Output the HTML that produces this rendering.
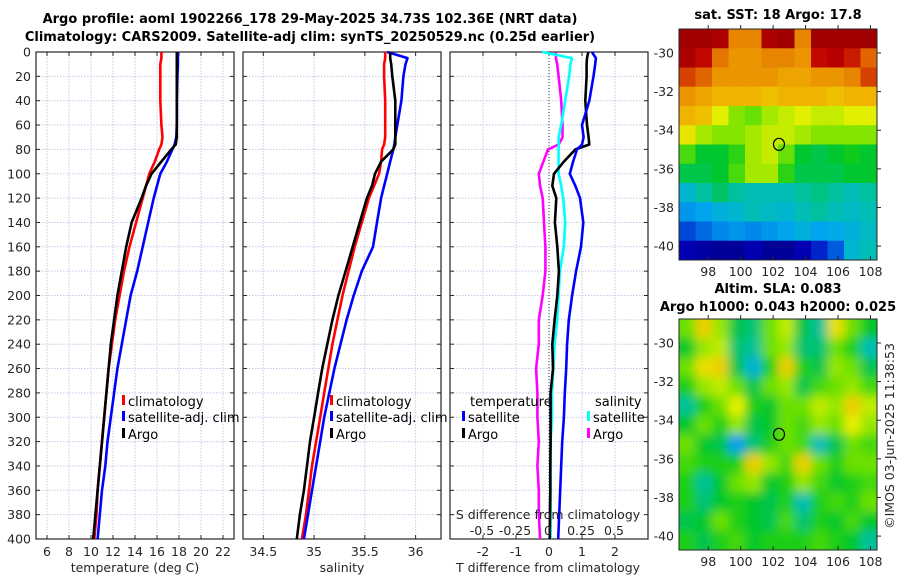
<!DOCTYPE html>
<html><head><meta charset="utf-8"><style>
html,body{margin:0;padding:0;background:#fff;}
svg{display:block;font-family:"DejaVu Sans","Liberation Sans",sans-serif;}
.t{font-size:12.5px;fill:#262626;}
.b{font-size:13px;font-weight:bold;fill:#000;}
.lg{font-size:13px;fill:#000;}
</style></head><body>
<svg id="s" width="900" height="580" viewBox="0 0 900 580">
<defs>
<clipPath id="c1"><rect x="679" y="29" width="198" height="231"/></clipPath>
<clipPath id="c2"><rect x="679" y="319" width="198" height="231"/></clipPath>
<filter id="bl" x="-10%" y="-10%" width="120%" height="120%"><feGaussianBlur stdDeviation="5"/></filter>
</defs>
<text class="b" x="310" y="23" text-anchor="middle">Argo profile: aoml 1902266_178 29-May-2025 34.73S 102.36E (NRT data)</text>
<text class="b" x="310" y="41" text-anchor="middle">Climatology: CARS2009. Satellite-adj clim: synTS_20250529.nc (0.25d earlier)</text>
<g id="g"></g>
</svg>
<script>
const depths=[0,5,10,20,40,60,70,76,80,90,100,110,120,140,160,180,200,220,240,260,280,300,320,340,360,380,400];
const tClim=[16.4,16.4,16.3,16.3,16.3,16.4,16.5,16.4,16.2,15.8,15.3,15.0,14.7,14.1,13.5,13.0,12.6,12.2,11.9,11.6,11.4,11.2,11.0,10.8,10.6,10.5,10.3];
const tSat=[17.9,17.9,17.9,17.85,17.8,17.8,17.75,17.6,17.4,16.9,16.3,16.0,15.7,15.2,14.7,14.2,13.6,13.2,12.8,12.4,12.1,11.8,11.5,11.3,11.0,10.8,10.6];
const tArgo=[17.8,17.8,17.8,17.8,17.8,17.8,17.8,17.7,17.3,16.4,15.5,15.0,14.6,13.7,13.2,12.8,12.4,12.1,11.8,11.6,11.4,11.2,11.0,10.8,10.6,10.4,10.2];
const sClim=[35.70,35.70,35.69,35.69,35.70,35.70,35.70,35.69,35.67,35.66,35.64,35.59,35.54,35.47,35.40,35.34,35.28,35.23,35.18,35.14,35.10,35.06,35.02,34.98,34.95,34.92,34.88];
const sSat=[35.72,35.92,35.90,35.88,35.86,35.82,35.80,35.79,35.78,35.75,35.72,35.69,35.66,35.62,35.58,35.47,35.39,35.32,35.26,35.20,35.15,35.10,35.06,35.02,34.98,34.94,34.90];
const sArgo=[35.75,35.75,35.76,35.77,35.80,35.80,35.80,35.80,35.78,35.66,35.60,35.57,35.52,35.45,35.38,35.31,35.24,35.18,35.13,35.08,35.04,35.00,34.96,34.93,34.90,34.86,34.83];
const dTSat=[1.30,1.42,1.40,1.35,1.22,1.00,1.05,1.0,0.85,0.73,0.63,0.80,0.94,1.04,0.97,0.82,0.70,0.60,0.55,0.52,0.48,0.45,0.40,0.37,0.34,0.31,0.28];
const dTArgo=[1.19,1.15,1.14,1.14,1.10,1.15,1.20,1.22,0.80,0.45,0.15,0.10,0.22,0.18,0.25,0.30,0.25,0.17,0.10,0.12,0.05,0.05,0.05,0.04,0.04,0.03,0.02];
const dSSat=[-0.045,0.18,0.17,0.16,0.13,0.10,0.08,0.08,0.08,0.08,0.08,0.10,0.115,0.13,0.12,0.09,0.08,0.07,0.05,0.04,0.03,0.03,0.02,0.02,0.02,0.02,0.02];
const dSArgo=[0.06,0.06,0.07,0.08,0.10,0.11,0.11,0.08,0.0,-0.035,-0.07,-0.06,-0.04,-0.03,-0.02,-0.02,-0.04,-0.07,-0.07,-0.09,-0.08,-0.08,-0.07,-0.08,-0.07,-0.07,-0.06];
const depthTicks=[0,20,40,60,80,100,120,140,160,180,200,220,240,260,280,300,320,340,360,380,400];
const tTicks=[6,8,10,12,14,16,18,20,22];
const sTicks=[34.5,35,35.5,36];
const dTTicks=[-2,-1,0,1,2];
const dSTicks=[-0.5,-0.25,0,0.25,0.5];
const sst=[
[19.6,19.6,19.5,18.6,18.6,19.5,19.6,18.6,19.6,19.6,19.6,19.6],
[19.5,19.3,18.7,18.5,18.5,18.6,18.6,18.5,19.3,19.4,19.2,18.8],
[19.0,18.8,18.5,18.5,18.5,18.5,18.4,18.4,18.5,18.5,18.6,19.0],
[18.5,18.4,18.3,18.3,18.3,18.2,18.3,18.3,18.3,18.2,18.3,18.3],
[18.3,18.2,17.8,17.5,17.4,17.6,17.7,17.8,17.7,17.7,17.8,17.8],
[17.9,17.6,17.5,17.5,17.6,17.7,17.7,17.6,17.5,17.5,17.5,17.5],
[17.3,17.0,17.0,17.2,17.6,17.7,17.4,17.0,16.9,17.0,17.1,17.0],
[16.9,16.9,17.0,17.3,17.6,17.6,17.2,16.9,16.9,16.9,17.0,17.0],
[16.3,16.6,16.8,16.6,16.5,16.5,16.5,16.6,16.7,16.6,16.5,16.6],
[15.9,16.0,16.2,16.3,16.5,16.4,16.3,16.5,16.6,16.5,16.4,16.5],
[15.4,15.6,15.8,15.9,15.8,15.9,16.0,16.2,16.0,16.1,16.2,16.4],
[14.9,14.8,14.7,14.7,14.9,14.7,14.7,14.9,15.2,15.5,16.3,16.5]];
const sla=[
[0.02,0.07,0.03,-0.02,-0.03,0.02,0.04,-0.02,-0.04,0.06,0.02,-0.01],
[-0.01,0.03,0.04,-0.03,-0.04,0.02,0.03,-0.03,-0.03,0.02,0.0,-0.05],
[0.02,0.06,0.07,-0.02,-0.07,0.0,0.07,0.0,-0.02,0.03,0.02,-0.02],
[0.0,0.03,0.04,0.02,-0.02,0.02,0.03,-0.02,0.01,0.02,0.03,0.01],
[-0.04,0.0,0.02,0.05,0.0,-0.01,0.02,0.02,0.04,0.03,0.07,0.04],
[-0.01,0.02,0.0,0.03,-0.02,-0.01,0.02,0.01,0.03,0.02,0.05,0.03],
[0.02,-0.01,-0.02,-0.09,-0.03,0.0,0.02,0.01,-0.05,-0.02,0.02,0.01],
[0.01,0.0,0.0,0.0,0.07,0.03,0.01,0.07,0.02,0.0,0.02,0.02],
[0.0,-0.04,-0.01,0.02,0.03,-0.01,0.0,0.03,0.01,-0.01,0.0,0.01],
[0.0,-0.03,-0.01,0.0,-0.01,-0.02,0.0,-0.05,0.0,0.01,0.0,0.02],
[-0.02,-0.01,0.02,0.0,-0.01,-0.02,0.01,-0.03,0.0,-0.01,0.01,-0.01],
[0.0,-0.02,0.0,0.01,-0.01,0.0,0.0,0.0,0.01,0.0,-0.01,-0.04]];
const lonTicks=[98,100,102,104,106,108];
const latTicks=[-30,-32,-34,-36,-38,-40];
const argoLon=102.36, argoLat=-34.73;

const NS='http://www.w3.org/2000/svg';
const G=document.getElementById('g');
function mk(tag,at,parent){const e=document.createElementNS(NS,tag);for(const k in at)e.setAttribute(k,at[k]);(parent||G).appendChild(e);return e;}
const Y0=52,Y1=539;
const yD=d=>Y0+(d/400)*(Y1-Y0);
function lin(d0,d1,p0,p1){return v=>p0+(v-d0)/(d1-d0)*(p1-p0);}
const P1={x0:36,x1:234,sx:lin(5,23,36,234)};
const P2={x0:243,x1:441,sx:lin(34.30,36.25,243,441)};
const P3={x0:450,x1:648,sx:lin(-3,3,450,648)};
const sDx=lin(-0.5,0.5,482,614);

function panel(P,ticks,fmt,name){
  const g=mk('g',{});
  
  
  ticks.forEach(t=>{const x=P.sx(t);
    const l=mk('line',{x1:x,x2:x,y1:Y0,y2:Y1,stroke:'#c6c9e6','stroke-width':1,'stroke-dasharray':'1.5,1.5'},g);
    
    mk('line',{x1:x,x2:x,y1:Y1,y2:Y1-4,stroke:'#262626'},g);mk('line',{x1:x,x2:x,y1:Y0,y2:Y0+4,stroke:'#262626'},g);
    const tx=mk('text',{class:'t',x:x,y:556,'text-anchor':'middle'},g);tx.textContent=fmt(t);
    });
  depthTicks.forEach(d=>{const y=yD(d);
    const l=mk('line',{x1:P.x0,x2:P.x1,y1:y,y2:y,stroke:'#c6c9e6','stroke-width':1,'stroke-dasharray':'1.5,1.5'},g);
    
    mk('line',{x1:P.x0,x2:P.x0+4,y1:y,y2:y,stroke:'#262626'},g);mk('line',{x1:P.x1,x2:P.x1-4,y1:y,y2:y,stroke:'#262626'},g);});
  const r=mk('rect',{x:P.x0,y:Y0,width:P.x1-P.x0,height:Y1-Y0,fill:'none',stroke:'#262626','stroke-width':1.2},g);
  
  return g;
}
function line(vals,sx,col,name){
  const pts=vals.map((v,i)=>sx(v).toFixed(1)+','+yD(depths[i]).toFixed(1)).join(' ');
  const p=mk('polyline',{points:pts,fill:'none',stroke:col,'stroke-width':2.6,'stroke-linejoin':'round'});
  
  
}
function txt(x,y,s,cls,name,anchor){const t=mk('text',{x:x,y:y,class:cls,'text-anchor':anchor||'start'});t.textContent=s;
  
  return t;}
function leg(x,y,col,s,name){mk('rect',{x:x,y:y-11,width:3,height:10,fill:col});txt(x+6,y,s,'lg',name);}

panel(P1,tTicks,String,'temperature');
depthTicks.forEach(d=>txt(31,yD(d)+4.5,String(d),'t','y-tick-label','end'));
line(tClim,P1.sx,'#ff0000','temp-climatology-line');
line(tSat,P1.sx,'#0000ff','temp-satellite-line');
line(tArgo,P1.sx,'#000000','temp-argo-line');
txt(135,572,'temperature (deg C)','t','x-axis-title-temperature','middle');
leg(122,406,'#ff0000','climatology','legend-climatology');
leg(122,422,'#0000ff','satellite-adj. clim','legend-satellite');
leg(122,439,'#000000','Argo','legend-argo');

panel(P2,sTicks,String,'salinity');
line(sClim,P2.sx,'#ff0000','sal-climatology-line');
line(sSat,P2.sx,'#0000ff','sal-satellite-line');
line(sArgo,P2.sx,'#000000','sal-argo-line');
txt(342,572,'salinity','t','x-axis-title-salinity','middle');
leg(330,406,'#ff0000','climatology','legend-climatology-2');
leg(330,422,'#0000ff','satellite-adj. clim','legend-satellite-2');
leg(330,439,'#000000','Argo','legend-argo-2');

panel(P3,dTTicks,String,'difference');
mk('line',{x1:P3.sx(0),x2:P3.sx(0),y1:Y0,y2:Y1,stroke:'#333','stroke-width':1,'stroke-dasharray':'1,2'});
line(dSArgo,sDx,'#ff00ff','sal-diff-argo-line');
line(dSSat,sDx,'#00ffff','sal-diff-satellite-line');
line(dTArgo,P3.sx,'#000000','temp-diff-argo-line');
line(dTSat,P3.sx,'#0000ff','temp-diff-satellite-line');
txt(548,572,'T difference from climatology','t','x-axis-title-tdiff','middle');
txt(548,519,'S difference from climatology','t','s-axis-title','middle');
dSTicks.forEach(t=>txt(sDx(t),535,String(t),'t','s-tick-label','middle'));
txt(470,406,'temperature','lg','legend-temperature-head');
leg(462,422,'#0000ff','satellite','legend-temp-satellite');
leg(462,439,'#000000','Argo','legend-temp-argo');
txt(595,406,'salinity','lg','legend-salinity-head');
leg(587,422,'#00ffff','satellite','legend-sal-satellite');
leg(587,439,'#ff00ff','Argo','legend-sal-argo');

const stops=[[0,[0,0,128]],[0.1,[0,0,192]],[0.2,[0,96,224]],[0.3,[0,168,240]],[0.4,[0,192,176]],[0.5,[0,200,32]],[0.58,[120,228,0]],[0.65,[232,240,0]],[0.75,[240,176,0]],[0.85,[224,96,0]],[0.95,[192,0,0]],[1,[160,0,0]]];
function cmap(t){t=Math.max(0,Math.min(1,t));
  for(let i=1;i<stops.length;i++){if(t<=stops[i][0]){const a=stops[i-1],b=stops[i],f=(t-a[0])/(b[0]-a[0]);
    return 'rgb('+[0,1,2].map(k=>Math.round(a[1][k]+f*(b[1][k]-a[1][k]))).join(',')+')';}}
  return 'rgb(160,0,0)';}
const LON0=96.2,LON1=108.4,LAT0=-28.76,LAT1=-40.72;
function mapAx(top,name,vals,norm,clip,blur){
  const bot=top+231;
  const mx=lin(LON0,LON1,679,877), my=lin(LAT0,LAT1,top,bot);
  const g=mk('g',{'clip-path':'url(#'+clip+')'});
  
  
  const inner=mk('g',blur?{filter:'url(#bl)'}:{},g);
  const nc=vals[0].length, nr=vals.length, cw=(LON1-LON0)/nc, ch=(LAT0-LAT1)/nr;
  if(blur) mk('rect',{x:660,y:top-20,width:240,height:270,fill:cmap(norm(0))},inner);
  vals.forEach((row,i)=>row.forEach((v,j)=>{
    const x=mx(LON0+j*cw), y=my(LAT0-i*ch);
    const ex=blur&&(j==0||j==nc-1)?20:0, ey=blur&&(i==0||i==nr-1)?20:0;
    const r=mk('rect',{x:(x-(j==0?ex:0)).toFixed(1),y:(y-(i==0?ey:0)).toFixed(1),width:(mx(LON0+(j+1)*cw)-x+0.6+ex).toFixed(1),height:(my(LAT0-(i+1)*ch)-y+0.6+ey).toFixed(1),fill:cmap(norm(v))},inner);
    
    
  }));
  const c=mk('ellipse',{cx:mx(argoLon),cy:my(argoLat),rx:5.5,ry:6,fill:'none',stroke:'#000','stroke-width':1.2});
  
  
  mk('rect',{x:679,y:top,width:198,height:231,fill:'none',stroke:'#262626','stroke-width':1});
  lonTicks.forEach(t=>{const x=mx(t);mk('line',{x1:x,x2:x,y1:bot,y2:bot-4,stroke:'#262626'});mk('line',{x1:x,x2:x,y1:top,y2:top-4,stroke:'#262626'});
    txt(x,bot+16,String(t),'t','map-lon-tick-label','middle');});
  latTicks.forEach(t=>{const y=my(t);mk('line',{x1:877,x2:881,y1:y,y2:y,stroke:'#262626'});
    txt(674,y+4.5,String(t),'t','map-lat-tick-label','end');});
}
mapAx(29,'sst-map',sst,v=>(v-14.5)/5.1,'c1',false);
txt(778,19,'sat. SST: 18 Argo: 17.8','b','sst-map-title','middle');
mapAx(319,'sla-map',sla,v=>0.52+v*2.6,'c2',true);
txt(778,293,'Altim. SLA: 0.083','b','sla-map-title','middle');
txt(778,311,'Argo h1000: 0.043 h2000: 0.025','b','sla-map-subtitle','middle');
const cr=txt(0,0,'©IMOS 03-Jun-2025 11:38:53','t','imos-credit','middle');
cr.setAttribute('transform','translate(894,436) rotate(-90)');
</script>
</body></html>
